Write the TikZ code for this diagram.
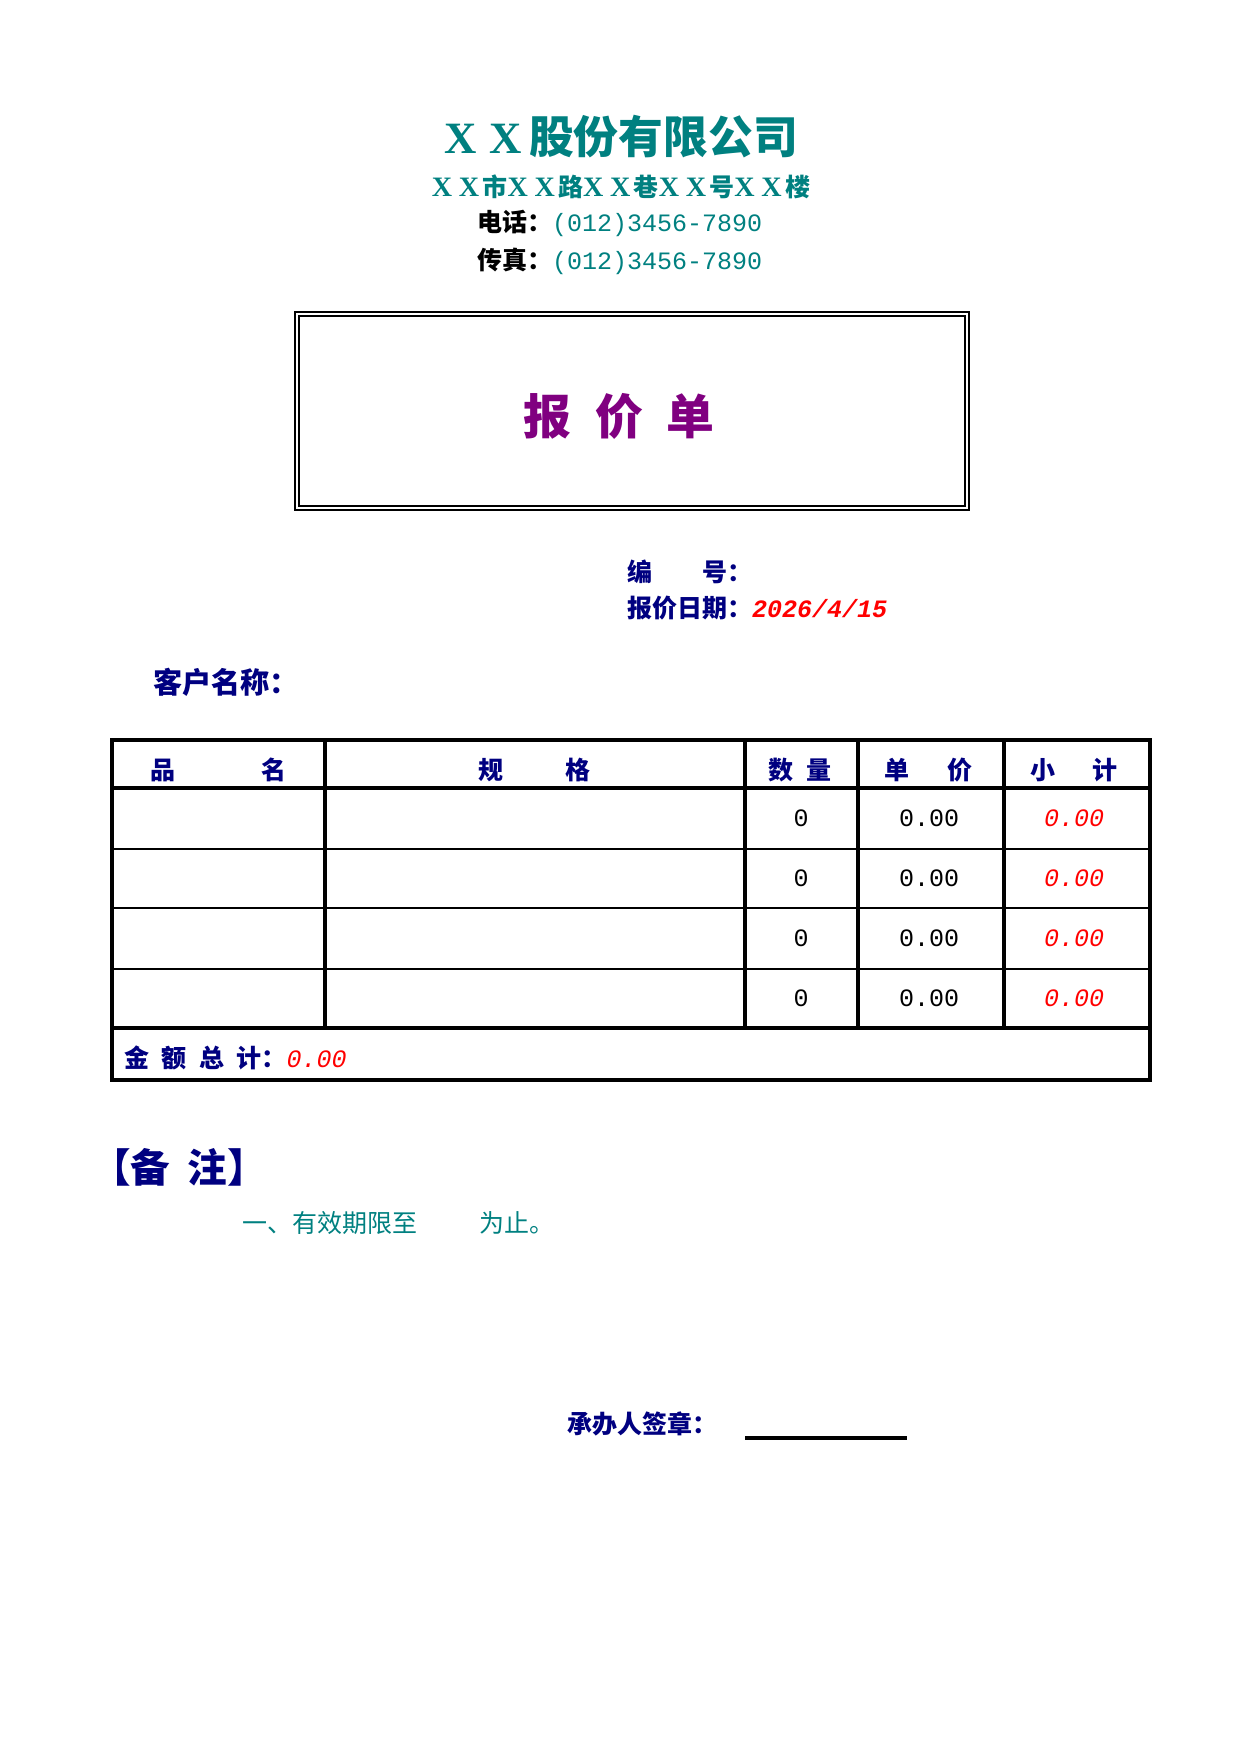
\documentclass[tikz,border=0pt]{standalone}
\usepackage{fontspec}
\setmainfont{Liberation Serif}
\setmonofont{Liberation Mono}
\newfontfamily\cjk{Noto Sans CJK SC}
\newfontfamily\serifx{Liberation Serif}
\definecolor{tealc}{RGB}{0,128,128}
\definecolor{navyc}{RGB}{0,0,128}
\definecolor{purplec}{RGB}{128,0,128}
\definecolor{redc}{RGB}{255,0,0}
\newcommand\twox{{\serifx\bfseries\fontsize{13.5}{14}\selectfont X\hspace{3.2pt}X}\hspace{1.6pt}}
\tikzset{
  txt/.style={inner sep=0pt, outer sep=0pt},
  cjkb/.style={txt, font=\cjk\bfseries\fontsize{12}{14}\selectfont},
  hdr/.style={cjkb, text=navyc},
  num/.style={txt, font=\ttfamily\fontsize{12}{14}\selectfont},
  rednum/.style={txt, font=\ttfamily\itshape\fontsize{12}{14}\selectfont, text=redc},
  thick line/.style={line width=1.5pt, black},
  thin line/.style={line width=0.8pt, black},
}
\begin{document}
\begin{tikzpicture}[x=0.48pt,y=-0.48pt]
\useasboundingbox (0,0) rectangle (1240,1754);

% header block
\node[txt, font=\cjk\bfseries\fontsize{21.5}{24}\selectfont, text=tealc] (title) at (621,137)
  {{\serifx X\hspace{0.3em}X\hspace{0.15em}}股份有限公司};
\node[cjkb, text=tealc] (addr) at (621,187)
  {\twox 市\twox 路\twox 巷\twox 号\twox 楼};
\node[cjkb, anchor=west] (tel) at (477,223)
  {电话：{\mdseries\ttfamily\color{tealc}(012)3456-7890}};
\node[cjkb, anchor=west] (fax) at (477,261)
  {传真：{\mdseries\ttfamily\color{tealc}(012)3456-7890}};

% title box
\draw[line width=1.4pt] (295,312) rectangle (969,510);
\draw[line width=0.8pt] (299,316) rectangle (965,506);
\node[txt, font=\cjk\bfseries\fontsize{23}{26}\selectfont, text=purplec] (doc) at (619,416)
  {报\hspace{0.5em}价\hspace{0.5em}单};

% meta
\node[hdr, anchor=west] (no) at (627,572) {编\hspace{2em}号：};
\node[hdr, anchor=west] (date) at (627,608)
  {报价日期：{\ttfamily\bfseries\itshape\color{redc}2026/4/15}};
\node[txt, font=\cjk\bfseries\fontsize{14}{16}\selectfont, text=navyc, anchor=west] (cust) at (153,682) {客户名称：};

% table grid
\foreach \yy in {849,908,969} \draw[thin line] (112,\yy) -- (1150,\yy);
\foreach \xx in {325,745,858,1004} \draw[thick line] (\xx,740) -- (\xx,1028);
\draw[thick line] (112,788) -- (1150,788);
\draw[thick line] (112,1028) -- (1150,1028);
\draw[thick line] (112,740) rectangle (1150,1080);

% table headers
\node[hdr] (h1a) at (163,770) {品};
\node[hdr] (h1b) at (274,770) {名};
\node[hdr] (h2a) at (491,770) {规};
\node[hdr] (h2b) at (578,770) {格};
\node[hdr] (h3a) at (781,770) {数};
\node[hdr] (h3b) at (819,770) {量};
\node[hdr] (h4a) at (897,770) {单};
\node[hdr] (h4b) at (960,770) {价};
\node[hdr] (h5a) at (1043,770) {小};
\node[hdr] (h5b) at (1105,770) {计};

% table data
\foreach \yy/\nn in {818/1,878/2,938/3,998/4}{
  \node[num] (q\nn) at (801,\yy) {0};
  \node[num] (p\nn) at (929,\yy) {0.00};
  \node[rednum] (s\nn) at (1074,\yy) {0.00};
}

% total row
\node[hdr, anchor=west] (tot) at (124,1058)
  {金\hspace{0.5em}额\hspace{0.5em}总\hspace{0.5em}计：{\mdseries\ttfamily\itshape\color{redc}0.00}};

% remarks
\node[txt, font=\cjk\bfseries\fontsize{19}{22}\selectfont, text=navyc, anchor=west] (rem) at (91,1167)
  {【备\hspace{0.45em}注】};
\node[txt, font=\cjk\fontsize{12}{14}\selectfont, text=tealc, anchor=west] (valid) at (242,1223)
  {一、有效期限至\hspace{2.5em}为止。};

% signature
\node[hdr, anchor=west] (sign) at (567,1424) {承办人签章：};
\coordinate (sl) at (745,1438);
\coordinate (sr) at (907,1438);
\draw[line width=1.7pt] (sl) -- (sr);
\end{tikzpicture}
\end{document}
